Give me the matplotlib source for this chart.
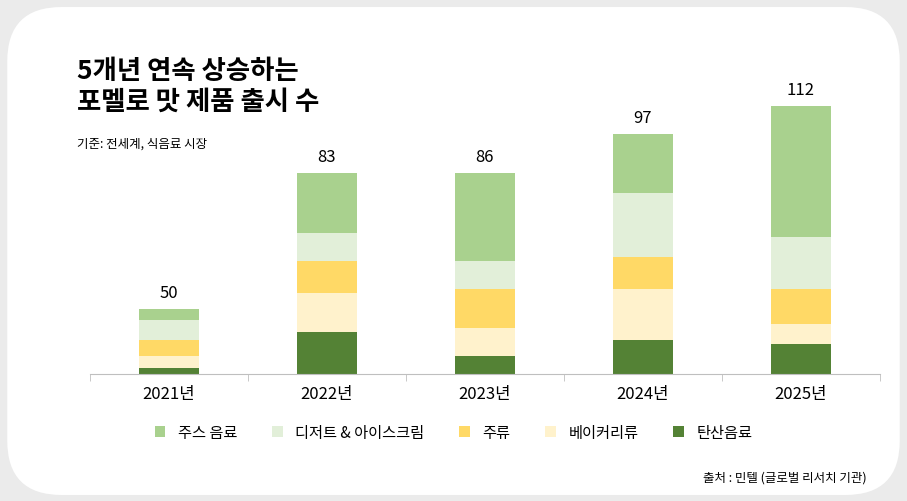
import numpy as np
import matplotlib.pyplot as plt
from matplotlib.patches import FancyBboxPatch

plt.rcParams['font.family'] = ['Noto Sans CJK KR', 'DejaVu Sans']

years = ['2021년', '2022년', '2023년', '2024년', '2025년']
totals = [50, 83, 86, 97, 112]
# segment heights (bottom to top)
data = {
    '탄산음료': [6, 42, 18, 34, 30],
    '베이커리류': [12, 39, 28, 51, 20],
    '주류': [16, 32, 39, 32, 35],
    '디저트 & 아이스크림': [20, 28, 28, 64, 52],
    '주스 음료': [11, 60, 88, 59, 131],
}
colors = {
    '탄산음료': '#548235',
    '베이커리류': '#fff2cc',
    '주류': '#ffd966',
    '디저트 & 아이스크림': '#e2efd9',
    '주스 음료': '#a9d18e',
}

fig = plt.figure(figsize=(9.07, 5.02), dpi=100)
fig.patch.set_facecolor('#ebebeb')
card = FancyBboxPatch((0.008, 0.012), 0.984, 0.972, boxstyle='round,pad=0,rounding_size=0.06',
                      transform=fig.transFigure, facecolor='white', edgecolor='none',
                      mutation_aspect=907/502, zorder=-10)
fig.patches.append(card)

ax = fig.add_axes([0.099, 0.253, 0.871, 0.56])
ax.set_zorder(5)
ax.set_facecolor('none')
x = np.arange(len(years))
bottom = np.zeros(len(years))
for name, vals in data.items():
    ax.bar(x, vals, 0.38, bottom=bottom, color=colors[name], label=name)
    bottom += np.array(vals)
for xi, b, t in zip(x, bottom, totals):
    ax.text(xi, b + 8, str(t), ha='center', va='bottom', fontsize=12)

ax.set_xlim(-0.5, 4.5)
ax.set_ylim(0, 281)
ax.set_yticks([])
ax.set_xticks(x)
ax.set_xticklabels(years, fontsize=12)
ax.set_xticks(np.arange(-0.5, 5, 1), minor=True)
ax.tick_params(axis='x', which='major', length=0, pad=8)
ax.tick_params(axis='x', which='minor', length=5, color='#bfbfbf')
for s in ['top', 'right', 'left']:
    ax.spines[s].set_visible(False)
ax.spines['bottom'].set_color('#bfbfbf')

handles, labels = ax.get_legend_handles_labels()
order = ['주스 음료', '디저트 & 아이스크림', '주류', '베이커리류', '탄산음료']
hl = dict(zip(labels, handles))
fig.legend([hl[o] for o in order], order, loc='center', bbox_to_anchor=(0.5, 0.137), ncol=5,
           frameon=False, fontsize=11, handlelength=0.7, handleheight=0.7, columnspacing=2.3)

fig.text(0.085, 0.885, '5개년 연속 상승하는\n포멜로 맛 제품 출시 수', fontsize=19, fontweight='bold',
         va='top', linespacing=1.2)
fig.text(0.085, 0.705, '기준: 전세계, 식음료 시장', fontsize=9)
fig.text(0.955, 0.04, '출처 : 민텔 (글로벌 리서치 기관)', fontsize=9, ha='right')

fig.savefig('out.png', dpi=100, facecolor=fig.get_facecolor())
